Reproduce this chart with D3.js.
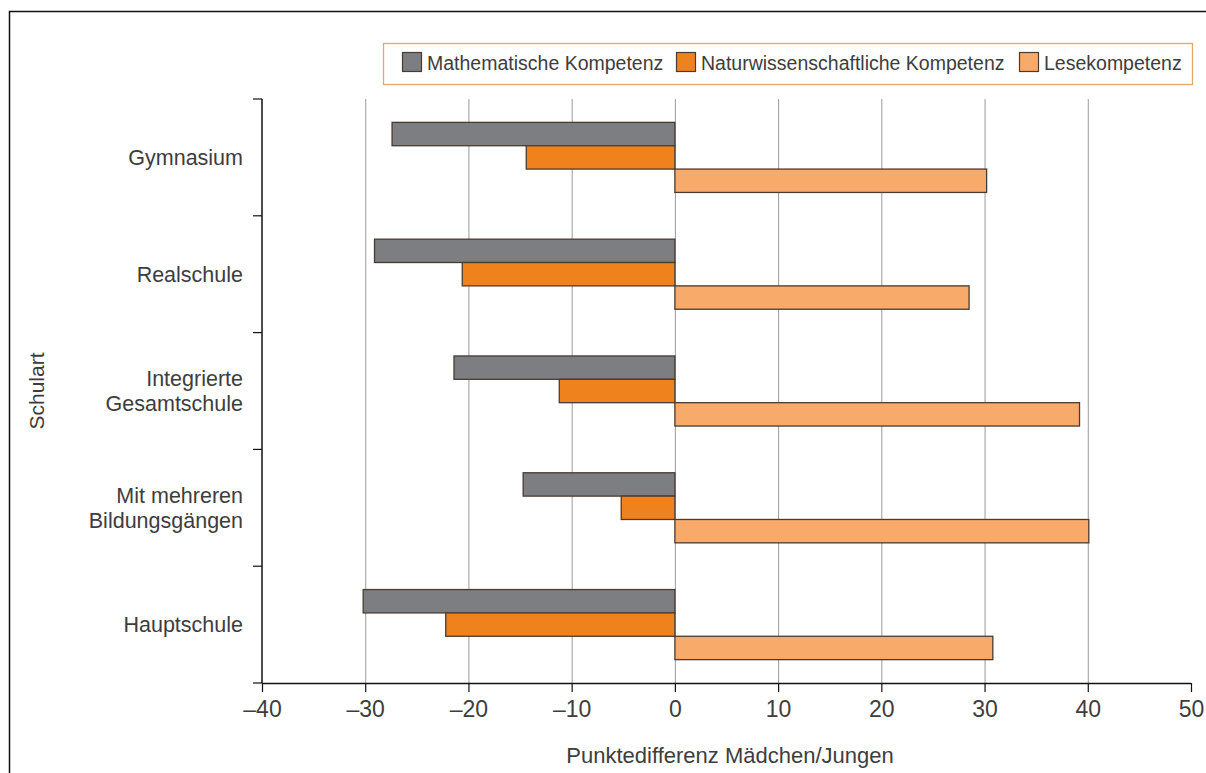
<!DOCTYPE html>
<html><head><meta charset="utf-8">
<script src="https://cdn.jsdelivr.net/npm/d3@7"></script>
<style>html,body{margin:0;padding:0;background:#fff;overflow:hidden;} svg{display:block;} text{font-family:"Liberation Sans",Arial,sans-serif;}</style>
</head><body>
<svg id="c" width="1206" height="773"></svg>
<script>
const categories = ["Gymnasium","Realschule","Integrierte Gesamtschule","Mit mehreren Bildungsgängen","Hauptschule"];
const categoryLines = [["Gymnasium"],["Realschule"],["Integrierte","Gesamtschule"],["Mit mehreren","Bildungsgängen"],["Hauptschule"]];
const seriesNames = ["Mathematische Kompetenz","Naturwissenschaftliche Kompetenz","Lesekompetenz"];
const mathe = [-27.4, -29.1, -21.4, -14.7, -30.2];
const natur = [-14.4, -20.6, -11.2, -5.2, -22.2];
const lesen = [30.2, 28.5, 39.2, 40.1, 30.8];
const xTicks = [-40,-30,-20,-10,0,10,20,30,40,50];
const colors = ["#7c7e81","#f0821e","#f8aa6b"];
const seriesValues = [mathe, natur, lesen];

const svg = d3.select("#c");
const L = 262, R = 1191, T = 99, B = 683;
const txt = "#3d3d3d";

// outer frame (top and left edges visible)
svg.append("path").attr("d","M9.5,773V11.5H1206")
  .attr("fill","none").attr("stroke","#111").attr("stroke-width",1.5);

const x = d3.scaleLinear().domain([-40,50]).range([L,R]);
const y = d3.scaleBand().domain(categories).range([T,B]).paddingInner(0).paddingOuter(0);
const ys = d3.scaleBand().domain(seriesNames).range([0,y.bandwidth()]).paddingInner(0).paddingOuter(1);

// gridlines
svg.append("g").selectAll("line").data(xTicks.filter(d=>d>-40 && d<50)).join("line")
  .attr("x1",d=>x(d)+0.5).attr("x2",d=>x(d)+0.5).attr("y1",T).attr("y2",B)
  .attr("stroke","#9a9a9a").attr("stroke-width",1);

// bars
seriesNames.forEach((s,si)=>{
  svg.append("g").selectAll("rect").data(categories).join("rect")
    .attr("x",(c,i)=>Math.min(x(0),x(seriesValues[si][i])))
    .attr("width",(c,i)=>Math.abs(x(seriesValues[si][i])-x(0)))
    .attr("y",c=>y(c)+ys(s))
    .attr("height",ys.bandwidth())
    .attr("fill",colors[si]).attr("stroke","#4a3b30").attr("stroke-width",1.3);
});

// x axis
const xa = svg.append("g").attr("transform",`translate(0,${B})`)
  .call(d3.axisBottom(x).tickValues(xTicks).tickSize(9).tickPadding(9)
     .tickFormat(d=> d<0 ? "\u2013"+Math.abs(d) : String(d)));
xa.select(".domain").attr("stroke","#111").attr("stroke-width",1.5).attr("d",`M${L},0.5H${R}`);
xa.selectAll(".tick line").attr("stroke","#111").attr("stroke-width",1.2);
xa.selectAll(".tick text").attr("font-size",23).attr("fill",txt)
  .style("font-family","'Liberation Sans',Arial,sans-serif");

// y axis
const yTickPos = categories.map(c=>y(c)).concat([B]);
svg.append("line").attr("x1",L).attr("x2",L).attr("y1",T).attr("y2",B)
  .attr("stroke","#111").attr("stroke-width",1.5);
svg.append("g").selectAll("line").data(yTickPos).join("line")
  .attr("x1",L-9).attr("x2",L).attr("y1",d=>d).attr("y2",d=>d)
  .attr("stroke","#111").attr("stroke-width",1.2);

// category labels
const lab = svg.append("g").selectAll("text").data(categories).join("text")
  .attr("x",243).attr("text-anchor","end").attr("font-size",21.5).attr("fill",txt);
lab.each(function(c,i){
  const lines = categoryLines[i];
  const cy = y(c)+y.bandwidth()/2;
  const lh = 25;
  const start = cy - (lines.length-1)*lh/2;
  d3.select(this).selectAll("tspan").data(lines).join("tspan")
    .attr("x",243).attr("y",(d,j)=>start+j*lh).attr("dy","0.35em").text(d=>d);
});

// axis titles
svg.append("text").attr("x",730).attr("y",763).attr("text-anchor","middle")
  .attr("font-size",22).attr("fill",txt).text("Punktedifferenz Mädchen/Jungen");
svg.append("text").attr("transform",`translate(44,${(T+B)/2}) rotate(-90)`)
  .attr("text-anchor","middle").attr("font-size",21).attr("fill",txt).text("Schulart");

// legend
const lg = svg.append("g");
lg.append("rect").attr("x",383.5).attr("y",43.5).attr("width",809).attr("height",41)
  .attr("fill","#fff").attr("stroke","#e9a56a").attr("stroke-width",1.3);
const legX = [402, 676, 1019];
seriesNames.forEach((s,i)=>{
  lg.append("rect").attr("x",legX[i]+0.5).attr("y",52.5).attr("width",19).attr("height",19)
    .attr("fill",colors[i]).attr("stroke","#4a3b30").attr("stroke-width",1.2);
  lg.append("text").attr("x",legX[i]+25).attr("y",63).attr("dy","0.35em")
    .attr("font-size",19.5).attr("fill",txt).text(s);
});
</script>
</body></html>
